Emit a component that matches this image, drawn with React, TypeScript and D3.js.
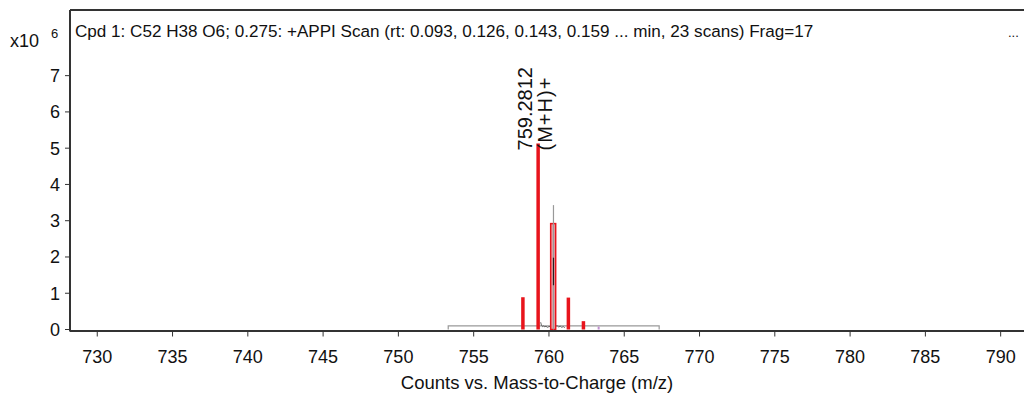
import React from "react";
import * as d3 from "d3";

// ── Data (intensity in x10^6 counts) ──────────────────────────
const PEAK_MZ = [758.27, 759.2812, 760.28, 761.29, 762.29];
const PEAK_INT = [0.89, 5.13, 2.92, 0.88, 0.23];

// predicted isotope box around the second peak
const BOX_MZ = [760.28];
const BOX_INT = [2.92];

// profile trace (gray) drawn over the centroid bars
const PROFILE_MZ = [760.3];
const PROFILE_INT = [3.43];

// baseline noise between the peaks
const NOISE_MZ = [759.45, 759.5, 759.58, 759.65, 759.72, 759.8, 759.9, 760.0, 760.55, 760.65, 760.75, 760.85, 760.95, 761.05];
const NOISE_INT = [0.2, 0.12, 0.08, 0.1, 0.07, 0.09, 0.06, 0.08, 0.1, 0.07, 0.09, 0.06, 0.08, 0.05];

// isolation window
const WINDOW = [753.31, 767.32];
const WINDOW_INT = 0.1;

const X_TICKS = [730, 735, 740, 745, 750, 755, 760, 765, 770, 775, 780, 785, 790];
const Y_TICKS = [0, 1, 2, 3, 4, 5, 6, 7];

const TITLE =
  "Cpd 1: C52 H38 O6; 0.275: +APPI Scan (rt: 0.093, 0.126, 0.143, 0.159 ... min, 23 scans) Frag=17";

// ── Geometry ──────────────────────────────────────────────────
const W = 1024;
const H = 394;
const LEFT = 70;
const TOP = 10;
const BASE = 329.5;
const FONT = "'Liberation Sans', Arial, sans-serif";

export default function App() {
  const x = d3.scaleLinear().domain([728.19, 791.55]).range([LEFT, W]);
  const y = d3.scaleLinear().domain([0, 8.81]).range([BASE, TOP]);

  const noiseLine = d3
    .line<number>()
    .x((_d, i) => x(NOISE_MZ[i]))
    .y((d) => y(d));

  const labelPeak = 1;
  const lx = x(PEAK_MZ[labelPeak]);
  const ly = y(PEAK_INT[labelPeak]) + 7;

  return (
    <svg
      width={W}
      height={H}
      style={{ position: "fixed", left: 0, top: 0, background: "#fff" }}
      fontFamily={FONT}
    >
      {/* frame */}
      <line x1={LEFT} x2={W + 2} y1={TOP} y2={TOP} stroke="#333" strokeWidth={2} />
      <line x1={LEFT} x2={LEFT} y1={TOP} y2={BASE + 2} stroke="#333" strokeWidth={2} />

      {/* title */}
      <text x={75} y={37} fontSize={17.1} fill="#111">
        {TITLE}
      </text>
      <text x={1008} y={37} fontSize={13} fill="#111">
        ...
      </text>

      {/* exponent label */}
      <text x={10} y={47} fontSize={18} fill="#111">
        x10
      </text>
      <text x={51} y={38} fontSize={13} fill="#111">
        6
      </text>

      {/* isolation window */}
      <path
        d={`M${x(WINDOW[0])},${BASE}V${y(WINDOW_INT)}H${x(WINDOW[1])}V${BASE}`}
        fill="none"
        stroke="#999"
        strokeWidth={1.2}
      />

      {/* baseline noise */}
      <path d={noiseLine(NOISE_INT) ?? ""} fill="none" stroke="#444" strokeWidth={0.8} />

      {/* centroid bars */}
      {PEAK_MZ.map((m, i) => (
        <line
          key={m}
          x1={x(m)}
          x2={x(m)}
          y1={BASE}
          y2={y(PEAK_INT[i])}
          stroke="#e8141c"
          strokeWidth={3.5}
        />
      ))}

      {/* predicted box */}
      {BOX_MZ.map((m, i) => (
        <rect
          key={m}
          x={x(m) - 2.5}
          y={y(BOX_INT[i])}
          width={5}
          height={BASE - y(BOX_INT[i])}
          fill="#e8a0a4"
          stroke="#e8141c"
          strokeWidth={1.5}
        />
      ))}

      {/* profile trace */}
      {PROFILE_MZ.map((m, i) => (
        <g key={m}>
          <line x1={x(m)} x2={x(m)} y1={BASE} y2={y(PROFILE_INT[i])} stroke="#999" strokeWidth={1.2} />
          <line x1={x(m)} x2={x(m)} y1={y(1.98)} y2={y(1.22)} stroke="#222" strokeWidth={1.2} />
        </g>
      ))}

      {/* small purple marker */}
      <line x1={x(763.3)} x2={x(763.3)} y1={BASE} y2={y(0.08)} stroke="#c090d0" strokeWidth={2} />

      {/* peak annotation */}
      <g transform={`translate(${lx - 6},${ly}) rotate(-90)`}>
        <text x={0} y={0} fontSize={20} fill="#111">
          {PEAK_MZ[labelPeak].toFixed(4)}
        </text>
      </g>
      <g transform={`translate(${lx + 14},${ly}) rotate(-90)`}>
        <text x={0} y={0} fontSize={20} letterSpacing={1} fill="#111">
          (M+H)+
        </text>
      </g>

      {/* x axis */}
      <line x1={LEFT} x2={W} y1={BASE + 1.5} y2={BASE + 1.5} stroke="#333" strokeWidth={2} />
      {X_TICKS.map((t) => (
        <g key={t}>
          <line x1={x(t)} x2={x(t)} y1={BASE + 2} y2={BASE + 7} stroke="#333" strokeWidth={1} />
          <text x={x(t)} y={BASE + 33} fontSize={18} textAnchor="middle" fill="#111">
            {t}
          </text>
        </g>
      ))}
      <text x={537} y={389} fontSize={18.5} textAnchor="middle" fill="#111">
        Counts vs. Mass-to-Charge (m/z)
      </text>

      {/* y axis */}
      {Y_TICKS.map((t) => (
        <g key={t}>
          <line x1={LEFT - 5} x2={LEFT} y1={y(t)} y2={y(t)} stroke="#333" strokeWidth={1} />
          <text x={LEFT - 10} y={y(t) + 6.5} fontSize={18} textAnchor="end" fill="#111">
            {t}
          </text>
        </g>
      ))}
    </svg>
  );
}
